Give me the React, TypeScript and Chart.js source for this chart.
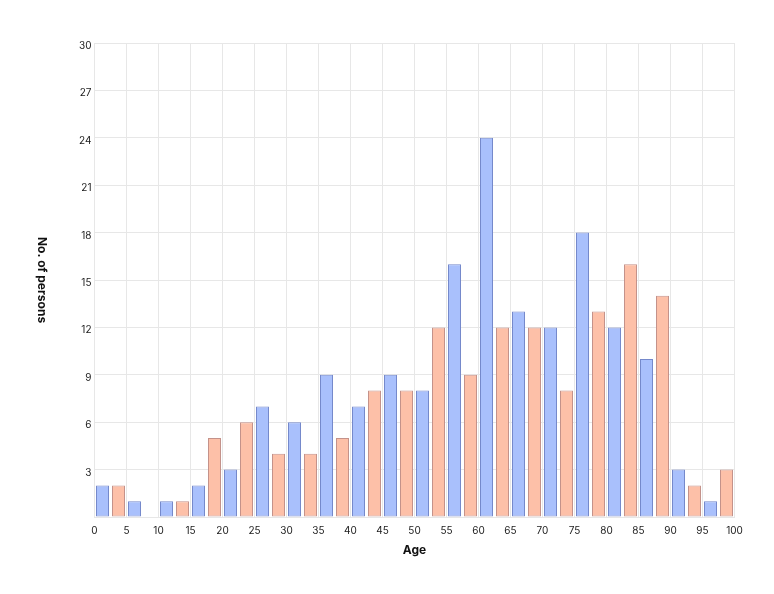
import React, { useEffect, useRef } from 'react';
import { Chart, registerables } from 'chart.js';

Chart.register(...registerables);

// start of each 5-year age bin
const ageBins = [0, 5, 10, 15, 20, 25, 30, 35, 40, 45, 50, 55, 60, 65, 70, 75, 80, 85, 90, 95];
// first half of each bin (blue) and second half (orange)
const firstHalf = [2, 1, 1, 2, 3, 7, 6, 9, 7, 9, 8, 16, 24, 13, 12, 18, 12, 10, 3, 1];
const secondHalf = [2, 0, 1, 5, 6, 4, 4, 5, 8, 8, 12, 9, 12, 12, 8, 13, 16, 14, 2, 3];

const xLabel = 'Age';
const yLabel = 'No. of persons';
const xMax = 100;
const xStep = 5;
const yMax = 30;
const yStep = 3;

const FONT = 'Inter, "Noto Sans", sans-serif';
const GRID = '#e7e7e7';

// draws the y title rotated clockwise (reads top to bottom)
const yTitlePlugin = {
  id: 'yTitleCW',
  afterDraw(chart: Chart) {
    const { ctx, chartArea } = chart;
    ctx.save();
    ctx.translate(42, (chartArea.top + chartArea.bottom) / 2);
    ctx.rotate(Math.PI / 2);
    ctx.font = `bold 12px ${FONT}`;
    ctx.fillStyle = '#111';
    ctx.textAlign = 'center';
    ctx.textBaseline = 'middle';
    ctx.fillText(yLabel, 0, 0);
    ctx.restore();
  },
};

const App: React.FC = () => {
  const canvasRef = useRef<HTMLCanvasElement | null>(null);

  useEffect(() => {
    if (!canvasRef.current) return;
    const half = xStep / 2;

    const chart = new Chart(canvasRef.current, {
      type: 'bar',
      data: {
        datasets: [
          {
            label: 'A',
            data: ageBins.map((b, i) => ({ x: b + half / 2, y: firstHalf[i] })),
            backgroundColor: '#a9c0fc',
            borderColor: '#7589cb',
            borderWidth: 1,
            borderSkipped: false,
          },
          {
            label: 'B',
            data: ageBins.map((b, i) => ({ x: b + half + half / 2, y: secondHalf[i] })),
            backgroundColor: '#fdc0a8',
            borderColor: '#c4928a',
            borderWidth: 1,
            borderSkipped: false,
          },
        ],
      },
      options: {
        animation: false,
        responsive: true,
        maintainAspectRatio: false,
        grouped: false,
        barPercentage: 0.8125,
        categoryPercentage: 1,
        layout: { padding: { top: 43, right: 39.5, bottom: 0, left: 0 } },
        plugins: {
          legend: { display: false },
          tooltip: { enabled: false },
        },
        scales: {
          x: {
            type: 'linear',
            min: 0,
            max: xMax,
            offset: false,
            grid: { offset: false, color: GRID, drawTicks: false },
            border: { color: GRID },
            ticks: {
              stepSize: xStep,
              padding: 8,
              color: '#1a1a1a',
              font: { family: FONT, size: 10 },
              maxRotation: 0,
            },
            title: {
              display: true,
              text: xLabel,
              color: '#111',
              font: { family: FONT, size: 12, weight: 'bold' },
              padding: { top: 0, bottom: 36 },
            },
            afterFit: (scale: any) => {
              scale.height = 77;
            },
          },
          y: {
            min: 0,
            max: yMax,
            grid: { color: GRID, drawTicks: false },
            border: { color: GRID },
            ticks: {
              stepSize: yStep,
              padding: 3,
              labelOffset: 3,
              color: '#1a1a1a',
              font: { family: FONT, size: 10 },
              callback: (v: any) => (v === 0 ? '' : v),
            },
            afterFit: (scale: any) => {
              scale.width = 94.5;
            },
          },
        },
      } as any,
      plugins: [yTitlePlugin],
    });

    return () => chart.destroy();
  }, []);

  return (
    <div style={{ position: 'fixed', left: 0, top: 0, width: 774, height: 594, background: '#fff' }}>
      <canvas ref={canvasRef}></canvas>
    </div>
  );
};

export default App;
